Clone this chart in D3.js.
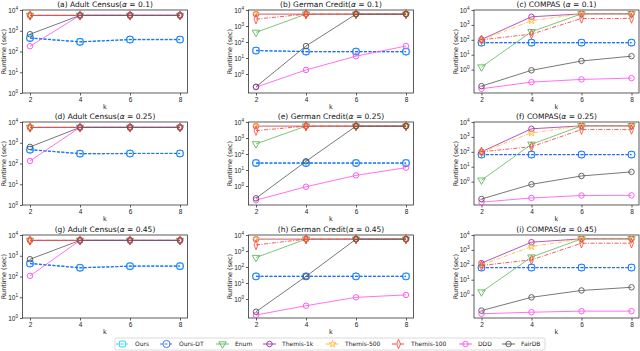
<!DOCTYPE html>
<meta charset="utf-8">
<style>
  body { margin: 0; background: #fff; }
  svg { font-family: "DejaVu Sans", sans-serif; }
  .axis text { font-size: 6.5px; fill: #222; }
  .axis path, .axis line { stroke: #333; stroke-width: 0.8px; }
  .title { font-size: 7.5px; fill: #111; }
  .lab { font-size: 6.5px; fill: #222; }
  .leg text { font-size: 6px; fill: #222; }
</style>
<svg width="640" height="351"></svg>
<script src="https://d3js.org/d3.v7.min.js"></script>
<script>

var ks = [2, 4, 6, 8];
var seriesNames  = ["Ours", "Ours-DT", "Enum", "Themis-1k", "Themis-500", "Themis-100", "DDD", "FairDB"];
var seriesColors = ["#1fd6f0", "#3366ff", "#5cb85c", "#9b2fae", "#ffb52e", "#ff3030", "#ff4df0", "#555555"];
var seriesDash   = ["3,1.5", "3,1.5", null, null, "4,1.5,1,1.5", "4,1.5,1,1.5", null, null];
var seriesMarker = ["square", "circleL", "triDown", "circle", "star", "diamond", "circle", "circle"];
var yTicks = [1, 10, 100, 1000, 10000];

// runtime in seconds, rows follow seriesNames order, columns follow ks
var adult010 = [
  [460, 295, 380, 380], [440, 290, 375, 375], [5500, 5500, 5500, 5500], [5500, 5500, 5500, 5500],
  [5500, 5500, 5500, 5500], [5500, 5500, 5500, 5500], [180, 5500, 5500, 5500], [680, 5500, 5500, 5500]];
var german010 = [
  [30, 25, 25, 25], [29, 25, 25, 25], [400, 5500, 5500, 5500], [5500, 5500, 5500, 5500],
  [5500, 5500, 5500, 5500], [2700, 5500, 5500, 5500], [0.15, 1.8, 13, 56], [0.16, 56, 5500, 5500]];
var compas010 = [
  [65, 65, 65, 65], [64, 64, 64, 64], [1.5, 350, 5500, 5500], [105, 3500, 5500, 5500],
  [95, 1900, 5500, 5500], [100, 240, 2700, 2700], [0.052, 0.145, 0.22, 0.27], [0.078, 0.9, 3.8, 8]];
var adult025 = [
  [470, 300, 305, 305], [460, 298, 303, 303], [5500, 5500, 5500, 5500], [5500, 5500, 5500, 5500],
  [5500, 5500, 5500, 5500], [5500, 5500, 5500, 5500], [133, 5500, 5500, 5500], [630, 5500, 5500, 5500]];
var german025 = [
  [28, 28, 28, 28], [27, 27, 27, 27], [430, 5500, 5500, 5500], [5500, 5500, 5500, 5500],
  [5500, 5500, 5500, 5500], [2900, 5500, 5500, 5500], [0.13, 0.9, 4.6, 14], [0.17, 35, 5500, 5500]];
var compas025 = [
  [66, 66, 66, 66], [65, 65, 65, 65], [1.25, 320, 5500, 5500], [100, 3500, 5500, 5500],
  [95, 1850, 5500, 5500], [100, 220, 3100, 3100], [0.042, 0.08, 0.117, 0.12], [0.068, 0.66, 2.4, 4.5]];
var adult045 = [
  [430, 265, 316, 316], [420, 263, 314, 314], [5500, 5500, 5500, 5500], [5500, 5500, 5500, 5500],
  [5500, 5500, 5500, 5500], [5500, 5500, 5500, 5500], [107, 5500, 5500, 5500], [680, 5500, 5500, 5500]];
var german045 = [
  [26, 26, 26, 26], [26, 26, 26, 26], [390, 5500, 5500, 5500], [5500, 5500, 5500, 5500],
  [5500, 5500, 5500, 5500], [2400, 5500, 5500, 5500], [0.1, 0.38, 1.27, 1.8], [0.16, 26, 5500, 5500]];
var compas045 = [
  [66, 66, 66, 66], [65, 65, 65, 65], [1.5, 330, 5500, 5500], [130, 3300, 5500, 5500],
  [100, 1650, 5500, 5500], [90, 215, 2800, 2800], [0.052, 0.066, 0.078, 0.078], [0.085, 0.66, 1.9, 3.1]];

var panels = [
  {pre: "(a) Adult Census(", a: "0.1", d: adult010, lo: 1},
  {pre: "(b) German Credit(", a: "0.1", d: german010, lo: 0.065},
  {pre: "(c) COMPAS (", a: "0.1", d: compas010, lo: 0.027},
  {pre: "(d) Adult Census(", a: "0.25", d: adult025, lo: 1},
  {pre: "(e) German Credit(", a: "0.25", d: german025, lo: 0.065},
  {pre: "(f) COMPAS(", a: "0.25", d: compas025, lo: 0.027},
  {pre: "(g) Adult Census(", a: "0.45", d: adult045, lo: 1},
  {pre: "(h) German Credit(", a: "0.45", d: german045, lo: 0.065},
  {pre: "(i) COMPAS(", a: "0.45", d: compas045, lo: 0.027}
];

var svg = d3.select("svg");
var colX = [22.5, 248.5, 474], rowY = [10, 122, 235];
var pw = 165, ph = 83;

function markerPath(m) {
  if (m == "square") return d3.symbol(d3.symbolSquare, 34)();
  if (m == "circleL") return d3.symbol(d3.symbolCircle, 40)();
  if (m == "circle") return d3.symbol(d3.symbolCircle, 24)();
  if (m == "triDown") return d3.symbol(d3.symbolTriangle, 24)();
  if (m == "star") return d3.symbol(d3.symbolStar, 14)();
  return d3.symbol(d3.symbolDiamond, 26)();
}
function markerTransform(m) {
  if (m == "triDown") return " rotate(180)";
  if (m == "diamond") return " scale(0.7,1)";
  return "";
}

function superTick(sel) {
  sel.each(function(d) {
    var t = d3.select(this).text("");
    t.append("tspan").text("10");
    t.append("tspan").attr("dy", -3).attr("font-size", "4.6px").text(Math.round(Math.log10(d)));
  });
}

panels.forEach(function(p, i) {
  var r = Math.floor(i / 3), c = i % 3;
  var g = svg.append("g").attr("transform", "translate(" + colX[c] + "," + rowY[r] + ")");

  var x = d3.scaleLinear().domain([1.7, 8.3]).range([0, pw]);
  var y = d3.scaleLog().domain([p.lo, 10000]).range([ph, 0]);

  g.append("rect").attr("width", pw).attr("height", ph)
    .attr("fill", "none").attr("stroke", "#333").attr("stroke-width", 0.8);

  var xa = g.append("g").attr("class", "axis").attr("transform", "translate(0," + ph + ")")
    .call(d3.axisBottom(x).tickValues(ks).tickSize(2.5).tickPadding(2).tickFormat(d3.format("d")));
  xa.select(".domain").remove();

  var ya = g.append("g").attr("class", "axis")
    .call(d3.axisLeft(y).tickValues(yTicks).tickSize(2.5).tickPadding(2));
  ya.select(".domain").remove();
  ya.selectAll(".tick text").call(superTick);

  g.append("text").attr("class", "lab").attr("text-anchor", "middle")
    .attr("x", pw / 2).attr("y", ph + 16).text("k");
  g.append("text").attr("class", "lab").attr("text-anchor", "middle")
    .attr("transform", "translate(-16.5," + (ph / 2) + ") rotate(-90)").text("Runtime (sec)");

  var tt = g.append("text").attr("class", "title").attr("text-anchor", "middle")
    .attr("x", pw / 2).attr("y", -3);
  tt.append("tspan").text(p.pre);
  tt.append("tspan").attr("font-style", "italic").text("\u03b1");
  tt.append("tspan").text(" = " + p.a + ")");

  var line = d3.line().x(function(d, j) { return x(ks[j]); }).y(function(d) { return y(d); });

  p.d.forEach(function(vals, s) {
    var col = seriesColors[s];
    g.append("path").datum(vals).attr("d", line)
      .attr("fill", "none").attr("stroke", col)
      .attr("stroke-width", s < 2 ? 1.2 : 0.8)
      .attr("stroke-dasharray", seriesDash[s]);
    g.selectAll(null).data(vals).enter().append("path")
      .attr("d", markerPath(seriesMarker[s]))
      .attr("transform", function(d, j) {
        return "translate(" + x(ks[j]) + "," + y(d) + ")" + markerTransform(seriesMarker[s]);
      })
      .attr("fill", "none").attr("stroke", col).attr("stroke-width", 0.9);
  });
});

// legend
var leg = svg.append("g").attr("class", "leg");
leg.append("rect").attr("x", 115).attr("y", 338).attr("width", 430).attr("height", 12)
  .attr("rx", 2).attr("fill", "#fff").attr("stroke", "#d0d0d0").attr("stroke-width", 0.8);
var legX = [116, 160, 216, 263, 326, 392, 459, 502];
seriesNames.forEach(function(n, s) {
  var lx = legX[s], ly = 344;
  leg.append("line").attr("x1", lx).attr("x2", lx + 13).attr("y1", ly).attr("y2", ly)
    .attr("stroke", seriesColors[s]).attr("stroke-width", 0.9)
    .attr("stroke-dasharray", seriesDash[s]);
  leg.append("path").attr("d", markerPath(seriesMarker[s]))
    .attr("transform", "translate(" + (lx + 6.5) + "," + ly + ")" + markerTransform(seriesMarker[s]))
    .attr("fill", "none").attr("stroke", seriesColors[s]).attr("stroke-width", 0.9);
  leg.append("text").attr("x", lx + 19).attr("y", ly + 2.2).text(n);
});

</script>
